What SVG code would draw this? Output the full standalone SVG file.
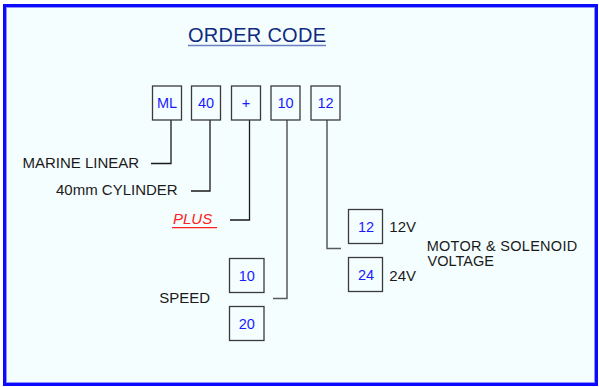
<svg xmlns="http://www.w3.org/2000/svg" width="599" height="387" viewBox="0 0 599 387">
<style>
.lbl{font-family:"Liberation Sans",Arial,sans-serif;font-size:15px;fill:#1a1a1a}
.code{font-family:"Liberation Sans",Arial,sans-serif;font-size:14.5px;fill:#1a1aff;text-anchor:middle}
.box{fill:#f5feff;stroke:#3a3a3a;stroke-width:1.3}
.conn{fill:none;stroke:#1a1a1a;stroke-width:1.3}
.conn2{fill:none;stroke:#5a5a5a;stroke-width:1.5}
</style>
<rect x="0" y="0" width="599" height="387" fill="#ffffff"/>
<rect x="4.5" y="5.5" width="592" height="379" fill="#f5feff" stroke="#0a0aff" stroke-width="3"/>
<rect x="6.5" y="7.5" width="588" height="375" fill="none" stroke="#9090ff" stroke-width="1"/>
<g id="title">
<text x="188" y="42.3" style="font-family:'Liberation Sans',Arial,sans-serif;font-size:20px;fill:#0f2a80" textLength="138">ORDER CODE</text>
<line x1="188" y1="45.5" x2="326" y2="45.5" stroke="#6a80c0" stroke-width="1.6"/>
</g>
<g id="connectors">
<path class="conn" d="M171,120 V163.5 H151"/>
<path class="conn" d="M210,120 V191 H191"/>
<path class="conn" d="M249.5,120 V220 H230"/>
<path class="conn2" d="M287,120 V298.5 H273"/>
<path class="conn2" d="M327,120 V248.5 H341"/>
</g>
<g id="box-ml"><rect class="box" x="152.5" y="86" width="29" height="34"/><text class="code" x="167" y="108">ML</text></g>
<g id="box-40"><rect class="box" x="191.5" y="86" width="29" height="34"/><text class="code" x="206" y="108">40</text></g>
<g id="box-plus"><rect class="box" x="231.5" y="86" width="29" height="34"/><text class="code" x="246" y="108">+</text></g>
<g id="box-10"><rect class="box" x="271" y="86" width="29" height="34"/><text class="code" x="285.5" y="108">10</text></g>
<g id="box-12"><rect class="box" x="311" y="86" width="29" height="34"/><text class="code" x="325.5" y="108">12</text></g>
<g id="label-marine"><text class="lbl" x="22.5" y="168.3">MARINE LINEAR</text></g>
<g id="label-cylinder"><text class="lbl" x="56" y="195">40mm CYLINDER</text></g>
<g id="label-plus"><text x="173" y="224.3" style="font-family:'Liberation Sans',Arial,sans-serif;font-size:15px;font-style:italic;fill:#ff2020">PLUS</text><line x1="172" y1="227.7" x2="217" y2="227.7" stroke="#ff2020" stroke-width="1.2"/></g>
<g id="label-speed"><text class="lbl" x="159.3" y="303.3">SPEED</text></g>
<g id="speed-10"><rect class="box" x="229.5" y="258.5" width="34.5" height="34"/><text class="code" x="246.8" y="280.5">10</text></g>
<g id="speed-20"><rect class="box" x="229.5" y="306.5" width="34.5" height="34"/><text class="code" x="246.8" y="328.5">20</text></g>
<g id="volt-12"><rect class="box" x="348.5" y="209.5" width="34" height="34"/><text class="code" x="366" y="231.5">12</text><text class="lbl" x="389.3" y="231.7">12V</text></g>
<g id="volt-24"><rect class="box" x="348.5" y="257.5" width="34" height="34"/><text class="code" x="366" y="279.5">24</text><text class="lbl" x="389.3" y="280.7">24V</text></g>
<g id="label-voltage"><text class="lbl" x="426.7" y="250.5" style="font-size:14.5px" textLength="150.5">MOTOR &amp; SOLENOID</text><text class="lbl" x="427.5" y="265.5" style="font-size:14.5px">VOLTAGE</text></g>
</svg>
